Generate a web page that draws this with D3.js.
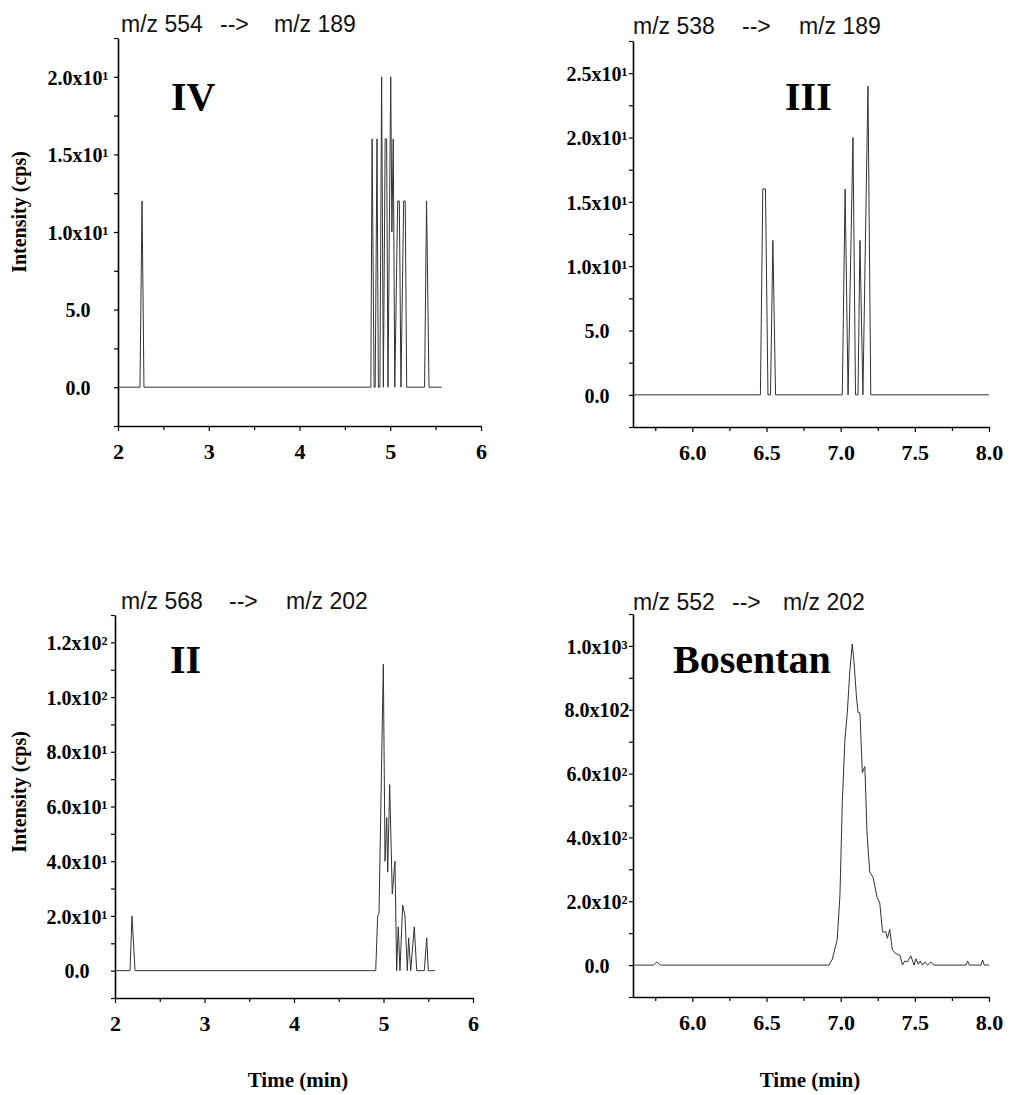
<!DOCTYPE html>
<html>
<head>
<meta charset="utf-8">
<script src="https://cdn.jsdelivr.net/npm/d3@7"></script>
<style>
  html, body { margin: 0; padding: 0; background: #fff; }
  svg { display: block; }
</style>
</head>
<body>
<svg id="chart" width="1012" height="1095"></svg>
<script>
// ---------- DATA ----------
// Panel IV : m/z 554 --> m/z 189
const timeIV = [2.0, 2.242, 2.265, 2.286, 4.786, 4.800, 4.822, 4.834, 4.854, 4.869, 4.886, 4.905, 4.924, 4.944, 4.960, 4.975, 5.005, 5.018, 5.033, 5.050, 5.082, 5.100, 5.118, 5.148, 5.165, 5.181, 5.378, 5.400, 5.427, 5.567];
const intensityIV = [0, 0, 12, 0, 0, 16, 0, 0, 16, 0, 0, 20, 0, 16, 16, 0, 20, 10, 16, 0, 12, 12, 0, 12, 12, 0, 0, 12, 0, 0];

// Panel III : m/z 538 --> m/z 189
const timeIII = [5.6, 6.459, 6.475, 6.493, 6.510, 6.527, 6.543, 6.561, 7.011, 7.030, 7.050, 7.083, 7.100, 7.117, 7.130, 7.150, 7.184, 7.203, 8.0];
const intensityIII = [0, 0, 16, 16, 0, 0, 12, 0, 0, 16, 0, 20, 0, 0, 12, 0, 24, 0, 0];

// Panel II : m/z 568 --> m/z 202
const timeII = [2.0, 2.168, 2.190, 2.224, 4.913, 4.935, 4.950, 4.998, 5.017, 5.036, 5.047, 5.069, 5.098, 5.128, 5.147, 5.165, 5.184, 5.214, 5.240, 5.266, 5.281, 5.304, 5.344, 5.371, 5.456, 5.483, 5.500, 5.575];
const intensityII = [0, 0, 20, 0, 0, 20, 21, 112, 40, 56, 36, 68, 28, 40, 0, 16, 0, 24, 20, 0, 12, 0, 16, 0, 0, 12, 0, 0];

// Panel Bosentan : m/z 552 --> m/z 202
const timeB = [5.6, 5.739, 5.761, 5.784, 6.921, 6.944, 6.977, 6.995, 7.011, 7.029, 7.045, 7.061, 7.078, 7.090, 7.106, 7.117, 7.130, 7.146, 7.163, 7.178, 7.196, 7.218, 7.246, 7.264, 7.282, 7.304, 7.315, 7.331, 7.349, 7.372, 7.400, 7.417, 7.432, 7.450, 7.473, 7.495, 7.507, 7.523, 7.536, 7.552, 7.568, 7.586, 7.608, 7.626, 7.845, 7.856, 7.867, 7.946, 7.957, 7.968, 8.0];
const intensityB = [0, 0, 10, 0, 0, 19, 81, 217, 510, 708, 792, 917, 1006, 949, 844, 792, 790, 603, 622, 410, 292, 275, 212, 194, 104, 104, 84, 112, 46, 36, 30, 0, 13, 10, 29, 0, 20, 3, 13, 0, 10, 0, 10, 0, 0, 13, 0, 0, 16, 0, 0];

// Ticks and labels
const xTicksEarly = [2, 3, 4, 5, 6];
const xLabelsEarly = ["2", "3", "4", "5", "6"];
const xMinorEarly = [2.5, 3.5, 4.5, 5.5];
const xTicksLate = [6.0, 6.5, 7.0, 7.5, 8.0];
const xLabelsLate = ["6.0", "6.5", "7.0", "7.5", "8.0"];
const xMinorLate = [5.75, 6.25, 6.75, 7.25, 7.75];

const yTicksIV = [0, 5, 10, 15, 20];
const yLabelsIV = ["0.0", "5.0", "1.0x10¹", "1.5x10¹", "2.0x10¹"];
const yMinorIV = [-2.5, 2.5, 7.5, 12.5, 17.5, 22.5];

const yTicksIII = [0, 5, 10, 15, 20, 25];
const yLabelsIII = ["0.0", "5.0", "1.0x10¹", "1.5x10¹", "2.0x10¹", "2.5x10¹"];
const yMinorIII = [-2.5, 2.5, 7.5, 12.5, 17.5, 22.5, 27.5];

const yTicksII = [0, 20, 40, 60, 80, 100, 120];
const yLabelsII = ["0.0", "2.0x10¹", "4.0x10¹", "6.0x10¹", "8.0x10¹", "1.0x10²", "1.2x10²"];
const yMinorII = [-10, 10, 30, 50, 70, 90, 110, 130];

const yTicksB = [0, 200, 400, 600, 800, 1000];
const yLabelsB = ["0.0", "2.0x10²", "4.0x10²", "6.0x10²", "8.0x102", "1.0x10³"];
const yMinorB = [-100, 100, 300, 500, 700, 900, 1100];

const panelTitles = [
  ["m/z 554", "-->", "m/z 189"],
  ["m/z 538", "-->", "m/z 189"],
  ["m/z 568", "-->", "m/z 202"],
  ["m/z 552", "-->", "m/z 202"]
];
const compoundNames = ["IV", "III", "II", "Bosentan"];
const yAxisTitle = "Intensity (cps)";
const xAxisTitle = "Time (min)";

// ---------- DRAWING ----------
const svg = d3.select("#chart");
const SERIF = "'Liberation Serif', 'Times New Roman', serif";
const SANS = "'Liberation Sans', Arial, sans-serif";

function drawPanel(p) {
  const x = d3.scaleLinear().domain(p.xDomain).range(p.xRange);
  const y = d3.scaleLinear().domain(p.yDomain).range(p.yRange);
  const g = svg.append("g");

  // y axis major
  const yAx = g.append("g").attr("transform", `translate(${p.xRange[0]},0)`)
    .call(d3.axisLeft(y).tickValues(p.yTicks).tickFormat((d, i) => p.yLabels[i]).tickSize(4).tickSizeOuter(0));
  yAx.select(".domain").attr("stroke", "#000").attr("stroke-width", 1.6);
  yAx.selectAll(".tick line").attr("stroke", "#000").attr("stroke-width", 1.2);
  yAx.selectAll(".tick text")
    .attr("x", -p.yLabelOffset).attr("dy", "0.36em")
    .attr("text-anchor", "middle")
    .style("font-family", SERIF).style("font-weight", "bold").style("font-size", "20px").attr("fill", "#000");
  // y minor ticks
  const yMin = g.append("g").attr("transform", `translate(${p.xRange[0]},0)`)
    .call(d3.axisLeft(y).tickValues(p.yMinor).tickFormat("").tickSize(4).tickSizeOuter(0));
  yMin.select(".domain").remove();
  yMin.selectAll(".tick line").attr("stroke", "#000").attr("stroke-width", 1.2);

  // x axis major
  const xAx = g.append("g").attr("transform", `translate(0,${p.yRange[0]})`)
    .call(d3.axisBottom(x).tickValues(p.xTicks).tickFormat((d, i) => p.xLabels[i]).tickSize(5).tickSizeOuter(0).tickPadding(12));
  xAx.select(".domain").attr("stroke", "#000").attr("stroke-width", 1.6);
  xAx.selectAll(".tick line").attr("stroke", "#000").attr("stroke-width", 1.2);
  xAx.selectAll(".tick text")
    .style("font-family", SERIF).style("font-weight", "bold").style("font-size", "22px").attr("fill", "#000");
  const xMin = g.append("g").attr("transform", `translate(0,${p.yRange[0]})`)
    .call(d3.axisBottom(x).tickValues(p.xMinor).tickFormat("").tickSize(4).tickSizeOuter(0));
  xMin.select(".domain").remove();
  xMin.selectAll(".tick line").attr("stroke", "#000").attr("stroke-width", 1.2);

  // trace
  const pts = p.time.map((t, i) => [t, p.values[i]]);
  g.append("path")
    .datum(pts)
    .attr("fill", "none")
    .attr("stroke", "#333")
    .attr("stroke-width", 1)
    .attr("stroke-linejoin", "miter")
    .attr("d", d3.line().x(d => x(d[0])).y(d => y(d[1])));

  // transition title
  p.title.forEach((s, i) => {
    g.append("text").attr("x", p.titleX[i]).attr("y", p.titleY)
      .style("font-family", SANS).style("font-size", "23px").attr("fill", "#111").text(s);
  });

  // compound name
  g.append("text").attr("x", p.nameX).attr("y", p.nameY)
    .style("font-family", SERIF).style("font-weight", "bold").style("font-size", "40px").attr("fill", "#000")
    .text(p.name);

  if (p.showYTitle) {
    g.append("text")
      .attr("transform", `translate(${p.yTitleX},${p.yTitleY}) rotate(-90)`)
      .attr("text-anchor", "middle")
      .style("font-family", SERIF).style("font-weight", "bold").style("font-size", "20px").attr("fill", "#000")
      .text(yAxisTitle);
  }
  if (p.showXTitle) {
    g.append("text").attr("x", p.xTitleX).attr("y", p.xTitleY)
      .attr("text-anchor", "middle")
      .style("font-family", SERIF).style("font-weight", "bold").style("font-size", "21px").attr("fill", "#000")
      .text(xAxisTitle);
  }
}

drawPanel({
  time: timeIV, values: intensityIV,
  xDomain: [2, 6], xRange: [118, 481], yDomain: [-2.5, 22.5], yRange: [426, 38],
  xTicks: xTicksEarly, xLabels: xLabelsEarly, xMinor: xMinorEarly,
  yTicks: yTicksIV, yLabels: yLabelsIV, yMinor: yMinorIV, yLabelOffset: 40,
  title: panelTitles[0], titleX: [121, 220, 274], titleY: 32,
  name: compoundNames[0], nameX: 171, nameY: 110,
  showYTitle: true, yTitleX: 26, yTitleY: 212
});
drawPanel({
  time: timeIII, values: intensityIII,
  xDomain: [5.6, 8.0], xRange: [633, 989], yDomain: [-2.5, 27.5], yRange: [427, 41],
  xTicks: xTicksLate, xLabels: xLabelsLate, xMinor: xMinorLate,
  yTicks: yTicksIII, yLabels: yLabelsIII, yMinor: yMinorIII, yLabelOffset: 36,
  title: panelTitles[1], titleX: [633, 742, 799], titleY: 34,
  name: compoundNames[1], nameX: 785, nameY: 110
});
drawPanel({
  time: timeII, values: intensityII,
  xDomain: [2, 6], xRange: [115, 473], yDomain: [-10, 130], yRange: [998, 615],
  xTicks: xTicksEarly, xLabels: xLabelsEarly, xMinor: xMinorEarly,
  yTicks: yTicksII, yLabels: yLabelsII, yMinor: yMinorII, yLabelOffset: 38,
  title: panelTitles[2], titleX: [121, 229, 286], titleY: 609,
  name: compoundNames[2], nameX: 170, nameY: 673,
  showYTitle: true, yTitleX: 26, yTitleY: 792,
  showXTitle: true, xTitleX: 298, xTitleY: 1087
});
drawPanel({
  time: timeB, values: intensityB,
  xDomain: [5.6, 8.0], xRange: [633, 989], yDomain: [-100, 1100], yRange: [997, 614],
  xTicks: xTicksLate, xLabels: xLabelsLate, xMinor: xMinorLate,
  yTicks: yTicksB, yLabels: yLabelsB, yMinor: yMinorB, yLabelOffset: 36,
  title: panelTitles[3], titleX: [633, 732, 783], titleY: 610,
  name: compoundNames[3], nameX: 673, nameY: 673,
  showXTitle: true, xTitleX: 810, xTitleY: 1087
});
</script>
</body>
</html>
